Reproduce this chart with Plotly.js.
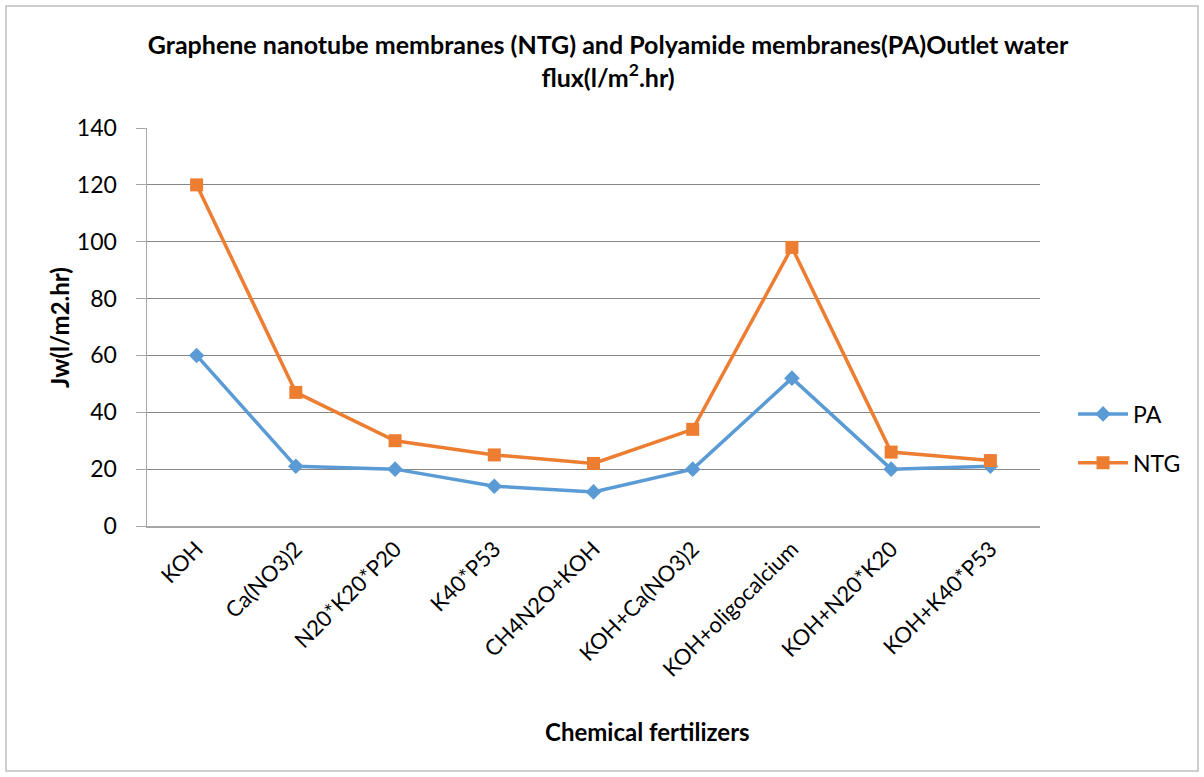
<!DOCTYPE html>
<html>
<head>
<meta charset="utf-8">
<script src="https://cdn.plot.ly/plotly-3.0.1.min.js"></script>
<style>html,body{margin:0;padding:0;background:#fff;}#chart{width:1204px;height:777px;}</style>
</head>
<body>
<div id="chart"></div>
<script>
const categories = ["KOH", "Ca(NO3)2", "N20*K20*P20", "K40*P53", "CH4N2O+KOH", "KOH+Ca(NO3)2", "KOH+oligocalcium", "KOH+N20*K20", "KOH+K40*P53"];
const paValues = [60, 21, 20, 14, 12, 20, 52, 20, 21];
const ntgValues = [120, 47, 30, 25, 22, 34, 98, 26, 23];
const yTicks = [0, 20, 40, 60, 80, 100, 120, 140];

const calibri = "Lato, 'Open Sans', sans-serif";

const traces = [
  {
    x: categories, y: paValues, name: "PA", type: "scatter", mode: "lines+markers",
    legendgroup: "a",
    line: {color: "#5B9BD5", width: 3.5},
    marker: {symbol: "diamond", size: 12, color: "#5B9BD5"}
  },
  {
    x: categories, y: ntgValues, name: "NTG", type: "scatter", mode: "lines+markers",
    legendgroup: "b",
    line: {color: "#ED7D31", width: 3.5},
    marker: {symbol: "square", size: 13, color: "#ED7D31"}
  }
];

const layout = {
  width: 1204, height: 777,
  margin: {l: 147, r: 164, t: 128, b: 251},
  paper_bgcolor: "#fff", plot_bgcolor: "#fff",
  showlegend: true,
  title: {
    text: "<b>Graphene nanotube membranes (NTG) and Polyamide membranes(PA)Outlet water<br>flux(l/m<sup>2</sup>.hr)</b>",
    font: {family: calibri, size: 25, color: "#000"},
    x: 0.505, xanchor: "center", y: 0.93, yanchor: "top"
  },
  xaxis: {
    type: "category",
    range: [-0.5, 8.5],
    tickangle: -45,
    tickfont: {family: calibri, size: 22, color: "#000"},
    showgrid: false,
    showline: true, linecolor: "#a6a6a6", linewidth: 1.5,
    ticks: "", zeroline: false, fixedrange: true
  },
  yaxis: {
    range: [0, 140],
    tickvals: yTicks,
    ticktext: yTicks.map(String),
    tickfont: {family: calibri, size: 23, color: "#000"},
    showgrid: true, gridcolor: "#868686", gridwidth: 1,
    showline: true, linecolor: "#a6a6a6", linewidth: 1.5,
    ticks: "outside", ticklen: 10, tickcolor: "#a6a6a6",
    ticklabelstandoff: 14,
    zeroline: false, fixedrange: true
  },
  legend: {
    x: 1.037, xanchor: "left", y: 0.22, yanchor: "middle",
    font: {family: calibri, size: 23, color: "#000"},
    traceorder: "grouped", tracegroupgap: 16,
    itemwidth: 50,
    bgcolor: "rgba(0,0,0,0)"
  },
  annotations: [
    {
      text: "<b>Chemical fertilizers</b>", xref: "paper", yref: "paper",
      x: (647 - 147) / 893, y: (526 - 731) / 398, xanchor: "center", yanchor: "middle",
      showarrow: false, font: {family: calibri, size: 24, color: "#000"}
    },
    {
      text: "<b>Jw(l/m2.hr)</b>", xref: "paper", yref: "paper", textangle: -90,
      x: (59 - 147) / 893, y: (526 - 328) / 398, xanchor: "center", yanchor: "middle",
      showarrow: false, font: {family: calibri, size: 24, color: "#000"}
    }
  ],
  shapes: [
    {
      type: "rect", xref: "paper", yref: "paper",
      x0: (6 - 147) / 893, x1: (1198 - 147) / 893,
      y0: (526 - 771) / 398, y1: (526 - 6) / 398,
      line: {color: "#bfbfbf", width: 1.5}, fillcolor: "rgba(0,0,0,0)", layer: "below"
    }
  ]
};

Plotly.newPlot("chart", traces, layout, {displayModeBar: false, staticPlot: true});
</script>
</body>
</html>
